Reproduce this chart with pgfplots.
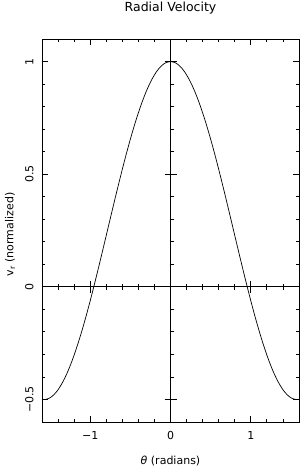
\documentclass[border=0pt]{standalone}
\usepackage{pgfplots}
\pgfplotsset{compat=1.18}
\usepackage{fontspec}
\setmainfont{DejaVu Sans}
\begin{document}
\begin{tikzpicture}
\path[use as bounding box] (0,0) rectangle (301pt,470pt);
\begin{axis}[
  at={(42pt,48pt)}, anchor=south west,
  scale only axis, width=257pt, height=383pt,
  xmin=-1.6, xmax=1.6, ymin=-0.6, ymax=1.1,
  xtick={-1,0,1}, xticklabels={−1,0,1},
  ytick={-0.5,0,0.5,1}, yticklabels={−0.5,0,0.5,1},
  minor xtick={-1.4,-1.2,-0.8,-0.6,-0.4,-0.2,0.2,0.4,0.6,0.8,1.2,1.4},
  minor ytick={-0.4,-0.3,-0.2,-0.1,0.1,0.2,0.3,0.4,0.6,0.7,0.8,0.9},
  tick align=inside, major tick length=6pt, minor tick length=3pt,
  tick style={black, line width=0.8pt},
  axis line style={line width=0.9pt},
  ticklabel style={font=\fontsize{11}{13}\selectfont},
  xticklabel style={yshift=-6pt},
  yticklabel style={xshift=-5pt, rotate=90, anchor=south},
  title={Radial Velocity},
  title style={at={(axis description cs:0.5,1.065)}, anchor=center, font=\fontsize{12.5}{15}\selectfont},
  xlabel={\textit{θ} (radians)},
  xlabel style={at={(axis description cs:0.5,-0.1031)}, anchor=center, font=\fontsize{11}{13}\selectfont},
  ylabel={v\textsubscript{r} (normalized)},
  ylabel style={at={(axis description cs:-0.1245,0.49)}, anchor=center, font=\fontsize{11}{13}\selectfont},
  clip=false,
]
\draw[line width=0.9pt] (axis cs:-1.6,0) -- (axis cs:1.6,0);
\draw[line width=0.9pt] (axis cs:0,-0.6) -- (axis cs:0,1.1);
\pgfplotsinvokeforeach{-1.4,-1.2,-0.8,-0.6,-0.4,-0.2,0.2,0.4,0.6,0.8,1.2,1.4}{
  \draw[line width=0.8pt] ([yshift=-3pt]axis cs:#1,0) -- ([yshift=3pt]axis cs:#1,0);
}
\pgfplotsinvokeforeach{-1,1}{
  \draw[line width=0.8pt] ([yshift=-6pt]axis cs:#1,0) -- ([yshift=6pt]axis cs:#1,0);
}
\pgfplotsinvokeforeach{-0.4,-0.3,-0.2,-0.1,0.1,0.2,0.3,0.4,0.6,0.7,0.8,0.9}{
  \draw[line width=0.8pt] (axis cs:0,#1) -- ([xshift=3.5pt]axis cs:0,#1);
}
\pgfplotsinvokeforeach{-0.5,0.5,1}{
  \draw[line width=0.8pt] ([xshift=-6pt]axis cs:0,#1) -- ([xshift=6pt]axis cs:0,#1);
}
\addplot[black, line width=0.7pt, smooth] coordinates {
(-1.5708,-0.5) (-1.55,-0.499351) (-1.5,-0.492494) (-1.45,-0.478219) (-1.4,-0.456667)
(-1.35,-0.428054) (-1.3,-0.392667) (-1.25,-0.350858) (-1.2,-0.303045) (-1.15,-0.249707)
(-1.1,-0.191376) (-1.05,-0.128635) (-1.0,-0.062110) (-0.95,0.007533) (-0.9,0.079599)
(-0.85,0.153367) (-0.8,0.228100) (-0.75,0.303053) (-0.7,0.377475) (-0.65,0.450624)
(-0.6,0.521768) (-0.55,0.590197) (-0.5,0.655227) (-0.45,0.716208) (-0.4,0.772530)
(-0.35,0.823632) (-0.3,0.869002) (-0.25,0.908187) (-0.2,0.940796) (-0.15,0.966502)
(-0.1,0.985050) (-0.05,0.996253) (0,1.0)
(0.05,0.996253) (0.1,0.985050) (0.15,0.966502) (0.2,0.940796) (0.25,0.908187)
(0.3,0.869002) (0.35,0.823632) (0.4,0.772530) (0.45,0.716208) (0.5,0.655227)
(0.55,0.590197) (0.6,0.521768) (0.65,0.450624) (0.7,0.377475) (0.75,0.303053)
(0.8,0.228100) (0.85,0.153367) (0.9,0.079599) (0.95,0.007533) (1.0,-0.062110)
(1.05,-0.128635) (1.1,-0.191376) (1.15,-0.249707) (1.2,-0.303045) (1.25,-0.350858)
(1.3,-0.392667) (1.35,-0.428054) (1.4,-0.456667) (1.45,-0.478219) (1.5,-0.492494)
(1.55,-0.499351) (1.5708,-0.5)
};
\end{axis}
\end{tikzpicture}
\end{document}
